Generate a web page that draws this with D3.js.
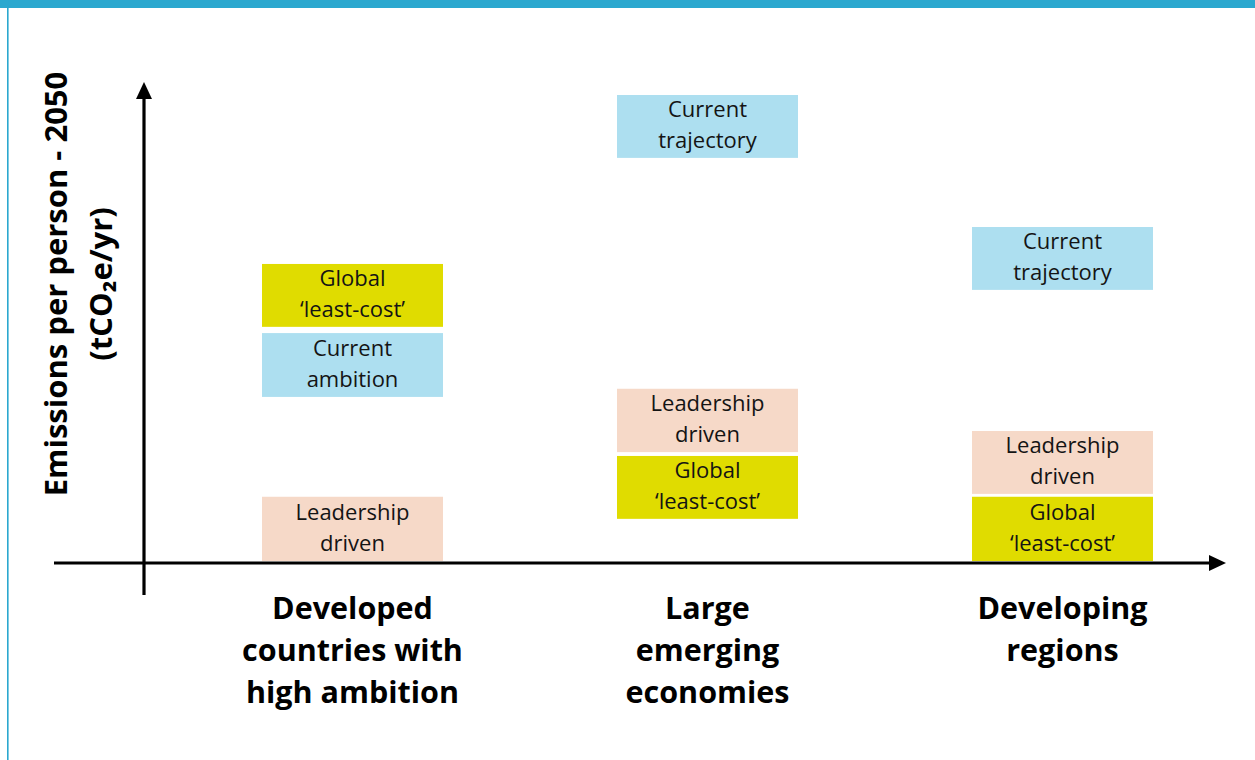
<!DOCTYPE html>
<html>
<head>
<meta charset="utf-8">
<script src="https://cdn.jsdelivr.net/npm/d3@7"></script>
<style>
  html, body { margin: 0; padding: 0; background: #fff; }
  svg { display: block; }
</style>
</head>
<body>
<svg id="chart" width="1255" height="760"></svg>
<script>
// ---- data ----
const categories = ["Developed countries with high ambition", "Large emerging economies", "Developing regions"];
const categoryLines = [["Developed", "countries with", "high ambition"], ["Large", "emerging", "economies"], ["Developing", "regions"]];
const scenarios = ["Current trajectory", "Current ambition", "Global 'least-cost'", "Leadership driven"];
const scenarioLines = {
  "Current trajectory": ["Current", "trajectory"],
  "Current ambition": ["Current", "ambition"],
  "Global 'least-cost'": ["Global", "\u2018least-cost\u2019"],
  "Leadership driven": ["Leadership", "driven"]
};
// emission ranges (arbitrary units, relative) [category, scenario, low, high]
const boxCategory = [0, 0, 0, 1, 1, 1, 2, 2, 2];
const boxScenario = ["Global 'least-cost'", "Current ambition", "Leadership driven",
                     "Current trajectory", "Leadership driven", "Global 'least-cost'",
                     "Current trajectory", "Leadership driven", "Global 'least-cost'"];
const boxLow  = [49.2, 34.6, 0.4, 84.4, 23.1, 9.2, 56.9, 14.4, 0.4];
const boxHigh = [62.3, 47.9, 13.8, 97.5, 36.3, 22.3, 70.0, 27.5, 13.8];
const yTitleLines = ["Emissions per person - 2050", "(tCO\u2082e/yr)"];

const scenarioColors = {
  "Current trajectory": "#addff0",
  "Current ambition": "#addff0",
  "Global 'least-cost'": "#e0dc00",
  "Leadership driven": "#f6d9c8"
};

// ---- drawing ----
const svg = d3.select("#chart");
const W = 1255, H = 760;

// frame
svg.append("rect").attr("x", 0).attr("y", 0).attr("width", W).attr("height", 8).attr("fill", "#2ba8cf");
svg.append("rect").attr("x", 7).attr("y", 0).attr("width", 1.6).attr("height", H).attr("fill", "#2ba8cf");

const x = d3.scaleBand().domain(categories).range([175, 1240]).paddingInner(0).paddingOuter(0);
const y = d3.scaleLinear().domain([0, 100]).range([563, 83]);
const boxW = 181;

const font = "'Open Sans', sans-serif";

// boxes
const boxes = boxCategory.map((c, i) => ({cat: categories[c], sc: boxScenario[i], lo: boxLow[i], hi: boxHigh[i]}));
const g = svg.append("g");
const bg = g.selectAll("g.box").data(boxes).enter().append("g").attr("class", "box");
bg.append("rect")
  .attr("x", d => x(d.cat) + x.bandwidth() / 2 - boxW / 2)
  .attr("y", d => y(d.hi))
  .attr("width", boxW)
  .attr("height", d => y(d.lo) - y(d.hi))
  .attr("fill", d => scenarioColors[d.sc]);
bg.each(function(d) {
  const cx = x(d.cat) + x.bandwidth() / 2;
  const cy = (y(d.lo) + y(d.hi)) / 2;
  const lines = scenarioLines[d.sc];
  const t = d3.select(this).append("text")
    .attr("text-anchor", "middle")
    .attr("font-family", font)
    .attr("font-size", 22)
    .attr("fill", "#141414");
  lines.forEach((l, k) => {
    t.append("tspan").attr("x", cx).attr("y", cy - 9 + k * 31).text(l);
  });
});

// axes
const axisColor = "#000";
const x0 = 144;
svg.append("line").attr("x1", 54).attr("x2", 1212).attr("y1", y(0)).attr("y2", y(0))
  .attr("stroke", axisColor).attr("stroke-width", 3.2);
svg.append("path").attr("d", `M1226,${y(0)} L1209,${y(0) - 8} L1209,${y(0) + 8} Z`).attr("fill", axisColor);
svg.append("line").attr("x1", x0).attr("x2", x0).attr("y1", 595).attr("y2", 96)
  .attr("stroke", axisColor).attr("stroke-width", 3.2);
svg.append("path").attr("d", `M${x0},82 L${x0 - 8},99 L${x0 + 8},99 Z`).attr("fill", axisColor);

// category labels
categories.forEach((c, i) => {
  const cx = x(c) + x.bandwidth() / 2;
  const t = svg.append("text").attr("text-anchor", "middle")
    .attr("font-family", font).attr("font-weight", 700).attr("font-size", 30.5).attr("fill", "#000");
  categoryLines[i].forEach((l, k) => {
    t.append("tspan").attr("x", cx).attr("y", 619 + k * 42).text(l);
  });
});

// y title
const yt = svg.append("text").attr("text-anchor", "middle")
  .attr("transform", "rotate(-90)")
  .attr("font-family", font).attr("font-weight", 700).attr("font-size", 31).attr("fill", "#000");
yt.append("tspan").attr("x", -284).attr("y", 67).text(yTitleLines[0]);
yt.append("tspan").attr("x", -284).attr("y", 112).text(yTitleLines[1]);
</script>
</body>
</html>
